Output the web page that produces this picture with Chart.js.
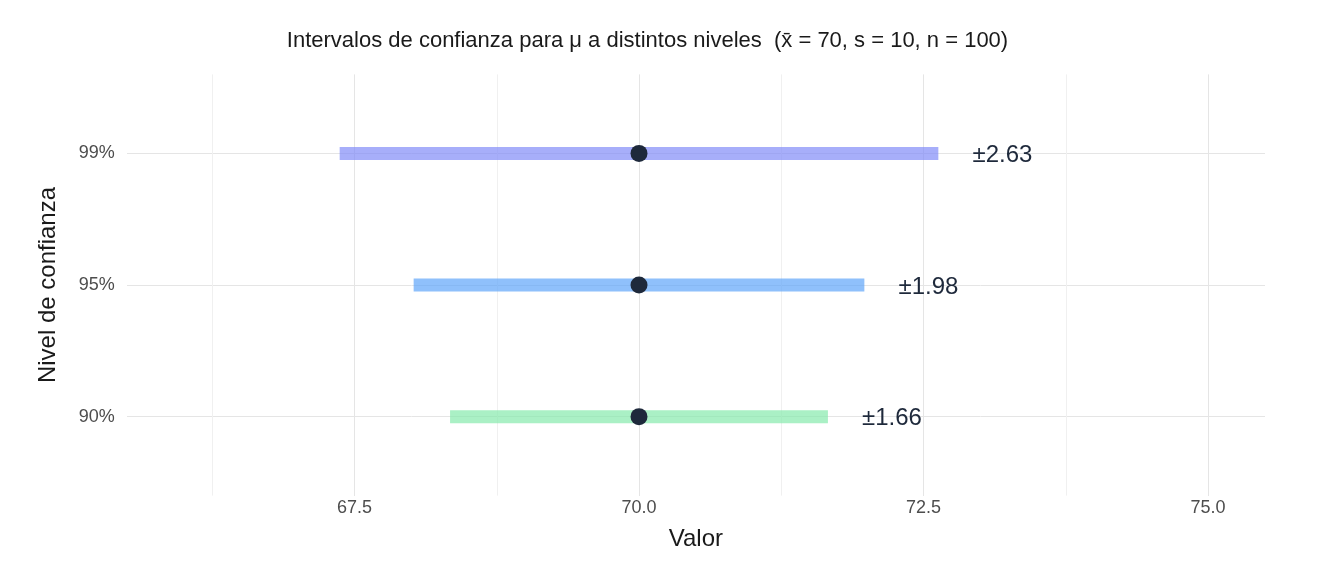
<!DOCTYPE html>
<html><head><meta charset="utf-8">
<script src="https://cdn.jsdelivr.net/npm/chart.js@4"></script>
<style>html,body{margin:0;background:#fff}#w{width:1344px;height:576px}</style>
</head><body><div id="w"><canvas id="c"></canvas></div>
<script>
const levels = ['90%','95%','99%'];
const mean = 70;
const margins = [1.66, 1.98, 2.63];
const colors = ['rgba(134,234,172,0.7)','rgba(96,165,250,0.7)','rgba(129,140,248,0.7)'];
const xTicks = [67.5, 70.0, 72.5, 75.0];

const datasets = levels.map((l,i)=>({
  type:'line', order:2, data:[{x:mean-margins[i],y:i+1},{x:mean+margins[i],y:i+1}],
  borderColor:colors[i], borderWidth:13, borderCapStyle:'butt', pointRadius:0, showLine:true
}));
datasets.push({type:'scatter', order:0, data:levels.map((l,i)=>({x:mean,y:i+1})), backgroundColor:'#1e293b', borderWidth:0, pointRadius:8.5, pointHoverRadius:8.5});

const labelPlugin = {id:'lbl', afterDatasetsDraw(ch){
  const {ctx, scales:{x,y}} = ch;
  ctx.save(); ctx.font='24px Arial, "Liberation Sans"'; ctx.fillStyle='#1e293b';
  ctx.textAlign='left'; ctx.textBaseline='middle';
  levels.forEach((l,i)=>ctx.fillText('±'+margins[i].toFixed(2), x.getPixelForValue(mean+margins[i]+0.3), y.getPixelForValue(i+1)+2));
  ctx.restore();
}};
const minorGrid = {id:'minor', beforeDatasetsDraw(ch){
  const {ctx, scales:{x}, chartArea:a} = ch;
  ctx.save(); ctx.strokeStyle='#f0f0f0'; ctx.lineWidth=1;
  [66.25,68.75,71.25,73.75].forEach(v=>{const p=Math.round(x.getPixelForValue(v))+0.5;ctx.beginPath();ctx.moveTo(p,a.top);ctx.lineTo(p,a.bottom);ctx.stroke();});
  ctx.restore();
}};

new Chart(document.getElementById('c'), {
  data:{datasets},
  plugins:[labelPlugin, minorGrid],
  options:{
    responsive:true, maintainAspectRatio:false, animation:false,
    layout:{padding:{left:30,right:79,top:8,bottom:22}},
    plugins:{legend:{display:false}, tooltip:{enabled:false},
      title:{display:true, text:'Intervalos de confianza para μ a distintos niveles  (x̄ = 70, s = 10, n = 100)',
        font:{size:22, family:'Arial, "Liberation Sans"', weight:'normal'}, color:'#1a1a1a', padding:{top:20,bottom:20}}},
    scales:{
      x:{type:'linear', min:65.5, max:75.5, afterBuildTicks(s){s.ticks=xTicks.map(v=>({value:v}));},
        ticks:{callback:v=>v.toFixed(1), color:'#4d4d4d', font:{size:18, family:'Arial, "Liberation Sans"'}, padding:2},
        grid:{color:'#e5e5e5', drawTicks:false}, border:{display:false},
        title:{display:true, text:'Valor', color:'#1a1a1a', font:{size:24, family:'Arial, "Liberation Sans"'}, padding:{top:4,bottom:0}}},
      y:{type:'linear', min:0.4, max:3.6, afterBuildTicks(s){s.ticks=[1,2,3].map(v=>({value:v}));},
        ticks:{callback:v=>levels[v-1], color:'#4d4d4d', font:{size:18, family:'Arial, "Liberation Sans"'}, padding:12},
        grid:{color:'#e5e5e5', drawTicks:false}, border:{display:false},
        title:{display:true, text:'Nivel de confianza', color:'#1a1a1a', font:{size:24, family:'Arial, "Liberation Sans"'}}}
    }
  }
});
</script></body></html>
